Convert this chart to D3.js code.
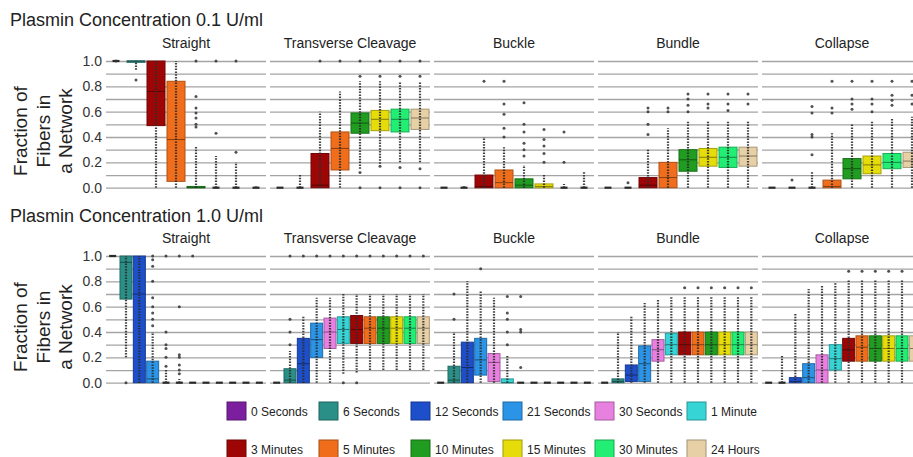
<!DOCTYPE html>
<html>
<head>
<meta charset="utf-8">
<script src="https://cdn.jsdelivr.net/npm/d3@7"></script>
<style>
  body { margin: 0; background: #fff; }
  svg { font-family: Arial, "Liberation Sans", sans-serif; }
</style>
</head>
<body>
<svg id="chart"></svg>
<script>
// time points and their colours
const timeLabels = ["0 Seconds", "6 Seconds", "12 Seconds", "21 Seconds", "30 Seconds", "1 Minute",
  "3 Minutes", "5 Minutes", "10 Minutes", "15 Minutes", "30 Minutes", "24 Hours"];
const timeColors = ["#7b1f9e", "#2a8f86", "#1e4fca", "#2b94e6", "#e880e0", "#36d4d4",
  "#9e0606", "#f06e1b", "#209c20", "#e6dc0a", "#22ee74", "#e7d0a6"];
const panelNames = ["Straight", "Transverse Cleavage", "Buckle", "Bundle", "Collapse"];

// time indices measured at each concentration
const lowTimes = [0, 1, 6, 7, 8, 9, 10, 11];
const highTimes = [0, 1, 2, 3, 4, 5, 6, 7, 8, 9, 10, 11];

// box stats per time point: [whisker low, q1, median, q3, whisker high]
// 0.1 U/ml
const straightLow = [[1, 1, 1, 1, 1], [0.93, 0.99, 1, 1, 1], [0, 0.49, 0.76, 1, 1], [0, 0.05, 0.38, 0.84, 1],
  [0, 0, 0, 0.01, 0.33], [0, 0, 0, 0, 0.25], [0, 0, 0, 0, 0.2], [0, 0, 0, 0, 0.01]];
const transverseLow = [[0, 0, 0, 0, 0], [0, 0, 0, 0, 0.1], [0, 0, 0.02, 0.27, 0.6], [0, 0.14, 0.31, 0.44, 0.76],
  [0.15, 0.43, 0.51, 0.59, 0.84], [0.19, 0.45, 0.54, 0.61, 0.84], [0.2, 0.44, 0.54, 0.62, 0.84], [0.2, 0.46, 0.55, 0.62, 0.84]];
const buckleLow = [[0, 0, 0, 0, 0], [0, 0, 0, 0, 0.02], [0, 0, 0.01, 0.1, 0.4], [0, 0, 0.04, 0.14, 0.32],
  [0, 0, 0.02, 0.07, 0.18], [0, 0, 0.01, 0.03, 0.1], [0, 0, 0, 0, 0.03], [0, 0, 0, 0, 0.13]];
const bundleLow = [[0, 0, 0, 0, 0], [0, 0, 0, 0, 0], [0, 0, 0.02, 0.08, 0.31], [0, 0, 0.08, 0.2, 0.47],
  [0, 0.13, 0.22, 0.3, 0.52], [0, 0.17, 0.24, 0.31, 0.52], [0, 0.16, 0.24, 0.32, 0.53], [0, 0.17, 0.25, 0.32, 0.53]];
const collapseLow = [[0, 0, 0, 0, 0], [0, 0, 0, 0, 0], [0, 0, 0, 0, 0.13], [0, 0, 0.01, 0.06, 0.43],
  [0, 0.07, 0.15, 0.23, 0.5], [0, 0.11, 0.18, 0.25, 0.52], [0, 0.15, 0.2, 0.27, 0.55], [0, 0.16, 0.21, 0.28, 0.56]];

// single points outside the whiskers, 0.1 U/ml
const straightLowPts = [[1], [0.85], [], [], [0.48, 0.5, 0.55, 0.59, 0.63, 0.72, 1], [0.43, 1], [0.28, 1], []];
const transverseLowPts = [[], [], [1], [1], [0, 0.12, 0.88, 1], [0, 0.17, 0.88, 1], [0, 0.16, 0.88, 1], [0, 0.15, 0.88, 1]];
const buckleLowPts = [[], [], [0.84], [0.4, 0.47, 0.58, 0.66, 0.84], [0.25, 0.3, 0.35, 0.44, 0.5, 0.67],
  [0.2, 0.27, 0.33, 0.38, 0.46], [0.2, 0.44], []];
const bundleLowPts = [[], [0.04], [0.42, 0.5, 0.6, 0.63], [0.6, 0.63], [0.6, 0.65, 0.7, 0.74],
  [0.63, 0.66, 0.74], [0.61, 0.66, 0.74], [0.66, 0.74]];
const collapseLowPts = [[], [0.06], [0.26, 0.4, 0.42, 0.59, 0.64], [0.59, 0.63, 0.84], [0.62, 0.66, 0.7, 0.84],
  [0.6, 0.66, 0.7, 0.84], [0.65, 0.69, 0.73, 0.84], [0.66, 0.73, 0.84]];

// 1.0 U/ml
const straightHigh = [[1, 1, 1, 1, 1], [0.2, 0.66, 0.95, 1, 1], [0, 0, 0.7, 1, 1], [0, 0, 0.03, 0.17, 0.4],
  [0, 0, 0, 0, 0.1], [0, 0, 0, 0, 0.03], [0, 0, 0, 0, 0], [0, 0, 0, 0, 0],
  [0, 0, 0, 0, 0], [0, 0, 0, 0, 0], [0, 0, 0, 0, 0], [0, 0, 0, 0, 0]];
const transverseHigh = [[0, 0, 0, 0, 0], [0, 0, 0.02, 0.11, 0.25], [0, 0, 0.15, 0.35, 0.53], [0, 0.2, 0.34, 0.47, 0.67],
  [0, 0.27, 0.4, 0.51, 0.67], [0.07, 0.31, 0.42, 0.52, 0.7], [0.08, 0.31, 0.42, 0.53, 0.7], [0.1, 0.31, 0.43, 0.52, 0.7],
  [0.1, 0.31, 0.43, 0.52, 0.7], [0.1, 0.31, 0.43, 0.52, 0.7], [0.1, 0.31, 0.43, 0.52, 0.7], [0.1, 0.31, 0.43, 0.52, 0.7]];
const buckleHigh = [[0, 0, 0, 0, 0], [0, 0, 0.02, 0.13, 0.4], [0, 0, 0.12, 0.32, 0.8], [0, 0.06, 0.18, 0.35, 0.73],
  [0, 0.01, 0.16, 0.23, 0.67], [0, 0, 0, 0.03, 0.22], [0, 0, 0, 0, 0], [0, 0, 0, 0, 0],
  [0, 0, 0, 0, 0], [0, 0, 0, 0, 0], [0, 0, 0, 0, 0], [0, 0, 0, 0, 0]];
const bundleHigh = [[0, 0, 0, 0, 0], [0, 0, 0.01, 0.03, 0.4], [0, 0.01, 0.06, 0.14, 0.53], [0, 0.01, 0.15, 0.29, 0.63],
  [0, 0.17, 0.26, 0.34, 0.66], [0, 0.22, 0.3, 0.39, 0.68], [0, 0.22, 0.3, 0.4, 0.68], [0, 0.22, 0.3, 0.4, 0.68],
  [0, 0.22, 0.3, 0.4, 0.68], [0, 0.22, 0.3, 0.4, 0.68], [0, 0.22, 0.3, 0.4, 0.68], [0, 0.22, 0.3, 0.4, 0.68]];
const collapseHigh = [[0, 0, 0, 0, 0], [0, 0, 0, 0, 0.22], [0, 0, 0.01, 0.04, 0.55], [0, 0, 0.04, 0.15, 0.74],
  [0, 0, 0.1, 0.22, 0.77], [0, 0.1, 0.19, 0.3, 0.79], [0, 0.17, 0.26, 0.35, 0.81], [0, 0.17, 0.28, 0.37, 0.81],
  [0, 0.17, 0.27, 0.37, 0.81], [0, 0.17, 0.27, 0.37, 0.81], [0, 0.17, 0.27, 0.37, 0.81], [0, 0.17, 0.27, 0.37, 0.81]];

const straightHighPts = [[], [0], [], [0.45, 0.5, 0.55, 0.6, 0.67, 0.8, 0.92, 0.97, 1], [0.13, 0.2, 0.27, 0.3, 0.4, 1],
  [0.07, 0.1, 0.14, 0.2, 0.22, 0.6, 1], [1], [], [], [], [], []];
const transverseHighPts = [[], [0.3, 0.4, 0.5, 1], [1], [1], [1], [0, 1], [0, 1], [1], [1], [1], [1], [1]];
const buckleHighPts = [[], [0.5, 0.7], [], [0.9], [], [0.3, 0.4, 0.5, 0.55, 0.68], [0.12, 0.4, 0.42, 0.68], [], [], [], [], []];
const bundleHighPts = [[], [], [], [], [], [], [0.75], [0.75], [0.75], [0.75], [0.75], [0.75]];
const collapseHighPts = [[], [], [], [], [], [], [0.88], [0.88], [0.88], [0.88], [0.88], [0.88]];

const yTicks = [0, 0.2, 0.4, 0.6, 0.8, 1.0];
const gridTicks = d3.range(0, 11).map((i) => i / 10);

const w = 913;
const h = 457;
const panelLeft = 106;
const panelW = 160;
const panelStep = 164;

const rows = [
  {
    title: "Plasmin Concentration 0.1 U/ml", titleY: 26, headY: 48, top: 61, bottom: 187.7, labelY: 131,
    times: lowTimes,
    stats: [straightLow, transverseLow, buckleLow, bundleLow, collapseLow],
    pts: [straightLowPts, transverseLowPts, buckleLowPts, bundleLowPts, collapseLowPts],
  },
  {
    title: "Plasmin Concentration 1.0 U/ml", titleY: 222, headY: 243, top: 256, bottom: 382.7, labelY: 327,
    times: highTimes,
    stats: [straightHigh, transverseHigh, buckleHigh, bundleHigh, collapseHigh],
    pts: [straightHighPts, transverseHighPts, buckleHighPts, bundleHighPts, collapseHighPts],
  },
];

const svg = d3.select("#chart").attr("width", w).attr("height", h);

rows.forEach((row) => {
  const y = d3.scaleLinear().domain([0, 1]).range([row.bottom, row.top]);

  svg.append("text")
    .attr("x", 10)
    .attr("y", row.titleY)
    .attr("font-size", "18px")
    .attr("fill", "#222")
    .text(row.title);

  // rotated y label
  const lab = svg.append("g").attr("font-size", "19px").attr("fill", "#222");
  [["Fraction of", 27], ["Fibers in", 49.5], ["a Network", 72]].forEach(([t, lx]) => {
    lab.append("text")
      .attr("transform", `translate(${lx},${row.labelY}) rotate(-90)`)
      .attr("text-anchor", "middle")
      .text(t);
  });

  const yAxis = svg.append("g")
    .attr("transform", `translate(${panelLeft},0)`)
    .call(d3.axisLeft(y).tickValues(yTicks).tickSize(0).tickPadding(4).tickFormat(d3.format(".1f")));
  yAxis.select(".domain").remove();
  yAxis.selectAll("text").attr("font-size", "14px").attr("fill", "#333")
    .attr("font-family", "Arial, 'Liberation Sans', sans-serif");

  panelNames.forEach((name, p) => {
    const x0 = panelLeft + p * panelStep;
    const x = d3.scaleBand().domain(row.times).range([x0, x0 + panelW]).paddingInner(0.1).paddingOuter(0.05);
    const g = svg.append("g");

    const grid = g.append("g")
      .attr("transform", `translate(${x0},0)`)
      .call(d3.axisLeft(y).tickValues(gridTicks).tickSize(-panelW).tickFormat(""));
    grid.select(".domain").remove();
    grid.selectAll("line").attr("stroke", "#a4a4a4").attr("stroke-width", 1.3);

    g.append("text")
      .attr("x", x0 + panelW / 2)
      .attr("y", row.headY)
      .attr("text-anchor", "middle")
      .attr("font-size", "14px")
      .attr("fill", "#222")
      .text(name);

    const stats = row.stats[p];
    const items = row.times.map((t, i) => ({ t: t, s: stats[i], pts: row.pts[p][i] }));

    items.forEach((d) => {
      const cx = x(d.t) + x.bandwidth() / 2;
      const col = timeColors[d.t];
      const [lo, q1, med, q3, hi] = d.s;
      if (q3 - q1 > 0.004) {
        g.append("rect")
          .attr("x", x(d.t))
          .attr("y", y(q3))
          .attr("width", x.bandwidth())
          .attr("height", y(q1) - y(q3))
          .attr("fill", col)
          .attr("stroke", d3.color(col).darker(0.9))
          .attr("stroke-width", 1);
        g.append("line")
          .attr("x1", x(d.t))
          .attr("x2", x(d.t) + x.bandwidth())
          .attr("y1", y(med))
          .attr("y2", y(med))
          .attr("stroke", d3.color(col).darker(1.6))
          .attr("stroke-width", 1);
      } else {
        g.append("line")
          .attr("x1", cx - 3.5)
          .attr("x2", cx + 3.5)
          .attr("y1", y(med))
          .attr("y2", y(med))
          .attr("stroke", "#2a2a2a")
          .attr("stroke-width", 2.2);
      }
      if (hi - lo > 0.004) {
        g.append("line")
          .attr("x1", cx)
          .attr("x2", cx)
          .attr("y1", y(lo))
          .attr("y2", y(hi))
          .attr("stroke", "#2e2e2e")
          .attr("stroke-opacity", 0.9)
          .attr("stroke-width", 2.2)
          .attr("stroke-dasharray", "1.5,1.3");
      }
      g.selectAll(null)
        .data(d.pts)
        .enter()
        .append("circle")
        .attr("cx", cx)
        .attr("cy", (v) => y(v))
        .attr("r", 1.5)
        .attr("fill", "#333")
        .attr("fill-opacity", 0.85);
    });
  });
});

// legend
const legend = svg.append("g").attr("font-size", "12px").attr("fill", "#222");
const legendItems = legend.selectAll(".legend-item")
  .data(timeLabels)
  .enter()
  .append("g")
  .attr("class", "legend-item")
  .attr("transform", (d, i) => `translate(${227 + (i % 6) * 92},${i < 6 ? 402 : 440})`);

legendItems.append("rect")
  .attr("width", 19)
  .attr("height", 18)
  .attr("fill", (d, i) => timeColors[i])
  .attr("stroke", (d, i) => d3.color(timeColors[i]).darker(1))
  .attr("stroke-width", 1);

legendItems.append("text")
  .attr("x", 24)
  .attr("y", 14)
  .text((d) => d);
</script>
</body>
</html>
